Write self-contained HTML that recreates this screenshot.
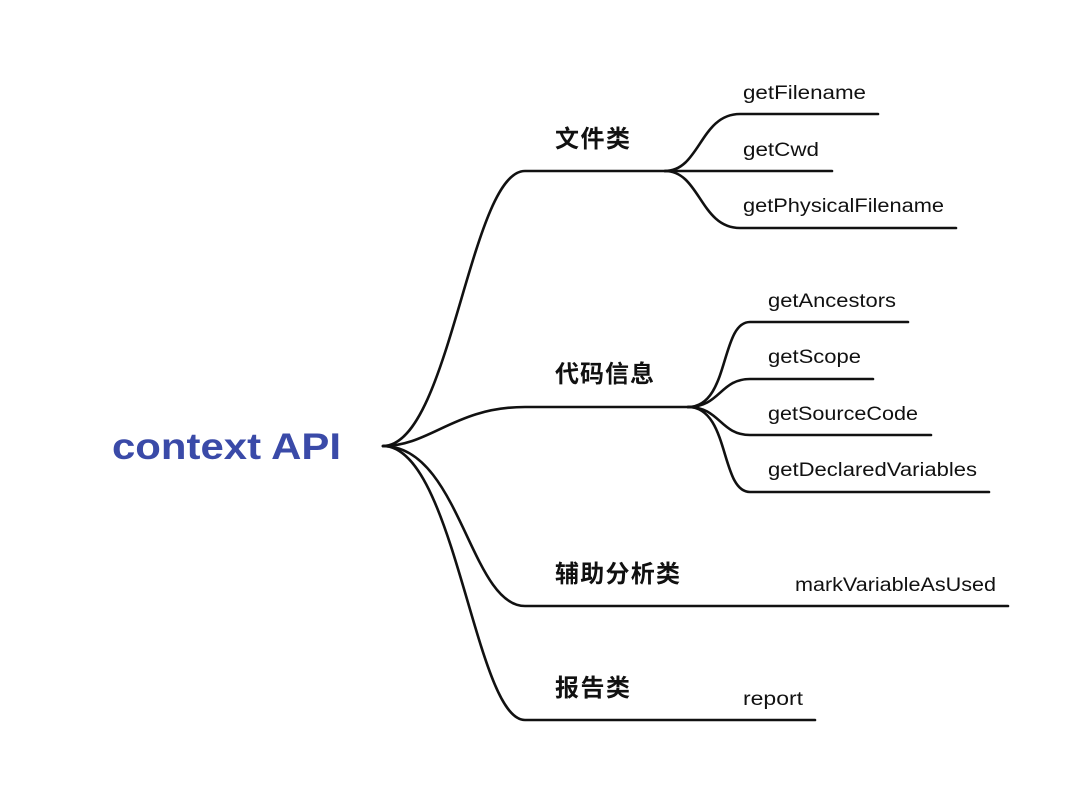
<!DOCTYPE html>
<html><head><meta charset="utf-8"><style>
body{margin:0;background:#fff;}
svg{display:block}
text{font-family:"Liberation Sans","Noto Sans CJK SC",sans-serif;fill:#111;}
.c{font-size:19px;}
.k{font-size:24px;font-weight:bold;}
</style></head><body>
<svg width="1080" height="793" viewBox="0 0 1080 793" xmlns="http://www.w3.org/2000/svg">
<g fill="none" stroke="#111" stroke-width="2.6" stroke-linecap="round">
<path d="M383 446 C450 446 470 171 525 171 H665"/>
<path d="M383 446 C430 446 455 407 525 407 H688"/>
<path d="M383 446 C460 446 470 606 525 606 H1008"/>
<path d="M383 446 C455 446 475 720 525 720 H815"/>
<path d="M665 171 C700 171 700 114 740 114 H878"/>
<path d="M665 171 H832"/>
<path d="M665 171 C700 171 700 228 740 228 H956"/>
<path d="M688 407 C730 407 720 322 750 322 H908"/>
<path d="M688 407 C720 407 720 379 750 379 H873"/>
<path d="M688 407 C720 407 720 435 750 435 H931"/>
<path d="M688 407 C730 407 720 492 750 492 H989"/>
</g>
<text x="112" y="459" textLength="229" lengthAdjust="spacingAndGlyphs" style="font-size:37px;font-weight:bold;fill:#3a4aa8">context API</text>
<text class="k" x="555" y="147" textLength="75">文件类</text>
<text class="k" x="555" y="382" textLength="99">代码信息</text>
<text class="k" x="555" y="582" textLength="125">辅助分析类</text>
<text class="k" x="555" y="696" textLength="75">报告类</text>
<text class="c" x="743" y="99" textLength="123" lengthAdjust="spacingAndGlyphs">getFilename</text>
<text class="c" x="743" y="156" textLength="76" lengthAdjust="spacingAndGlyphs">getCwd</text>
<text class="c" x="743" y="212" textLength="201" lengthAdjust="spacingAndGlyphs">getPhysicalFilename</text>
<text class="c" x="768" y="307" textLength="128" lengthAdjust="spacingAndGlyphs">getAncestors</text>
<text class="c" x="768" y="363" textLength="93" lengthAdjust="spacingAndGlyphs">getScope</text>
<text class="c" x="768" y="420" textLength="150" lengthAdjust="spacingAndGlyphs">getSourceCode</text>
<text class="c" x="768" y="476" textLength="209" lengthAdjust="spacingAndGlyphs">getDeclaredVariables</text>
<text class="c" x="795" y="591" textLength="201" lengthAdjust="spacingAndGlyphs">markVariableAsUsed</text>
<text class="c" x="743" y="705" textLength="60" lengthAdjust="spacingAndGlyphs">report</text>
</svg>
</body></html>
